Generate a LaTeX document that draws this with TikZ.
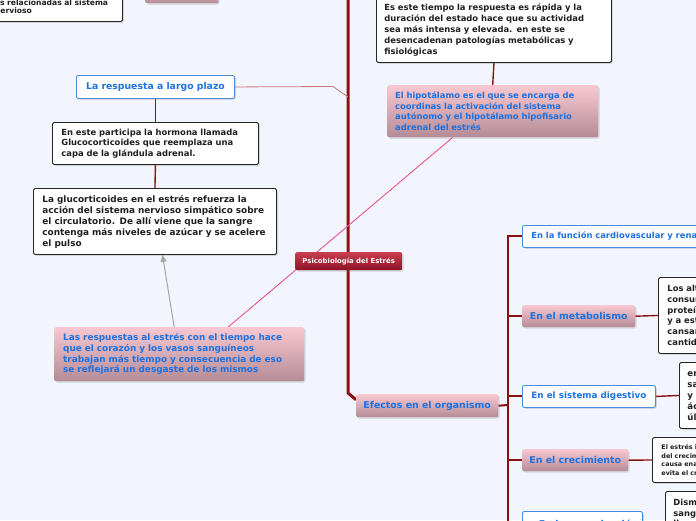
\documentclass[tikz,border=0pt]{standalone}
\usepackage{fontspec}
\setmainfont{DejaVu Sans}
\usetikzlibrary{shadows,arrows.meta}
\definecolor{bgc}{RGB}{242,245,253}
\definecolor{pinkT}{RGB}{248,200,210}
\definecolor{pinkB}{RGB}{180,140,150}
\definecolor{blueT}{RGB}{28,114,226}
\definecolor{blueB}{RGB}{70,140,225}
\definecolor{dred}{RGB}{140,18,18}
\definecolor{lred}{RGB}{205,120,120}
\definecolor{redT}{RGB}{200,62,78}
\definecolor{redB}{RGB}{140,18,38}
\definecolor{pinkline}{RGB}{232,96,150}
\definecolor{grayarr}{RGB}{165,165,165}
\pgfdeclarelayer{bgfill}
\pgfdeclarelayer{edges}
\pgfsetlayers{bgfill,edges,main}
\newcommand\fsz[2]{\fontsize{#1}{#2}\selectfont}
\newcommand\btn[1]{\leftskip=9pt\relax #1\par}
\newcommand\bte[1]{\leftskip=8pt\relax #1\par}
\begin{document}
\begin{tikzpicture}[x=1pt,y=-1pt,
  dshadow/.style={drop shadow={opacity=0.28,shadow xshift=1.3pt,shadow yshift=-1.3pt}},
  base/.style={anchor=north west,inner xsep=0pt,inner ysep=0pt,align=left},
  blackbox/.style={base,draw=black!85,line width=0.9pt,fill=white,rounded corners=1.5pt,dshadow,font=\bfseries\fsz{8.4}{10.8},text=black!88},
  pinkbox/.style={base,top color=pinkT,bottom color=pinkB,rounded corners=2pt,dshadow,text=blueT,font=\bfseries\fsz{8.4}{10.4}},
  bluebox/.style={base,draw=blueB,line width=0.9pt,fill=white,rounded corners=2pt,dshadow,text=blueT,font=\bfseries\fsz{8.6}{10.6}},
  redbox/.style={base,top color=redT,bottom color=redB,rounded corners=2pt,dshadow,text=white,font=\bfseries\fsz{6.9}{8}},
  mainline/.style={draw=dred,line width=3pt},
  branch/.style={draw=dred,line width=2pt},
  thinline/.style={draw=dred,line width=1.4pt},
  lthin/.style={draw=lred,line width=0.8pt},
  pinkedge/.style={draw=pinkline,line width=1pt},
  grayedge/.style={draw=grayarr,line width=1pt,-{Triangle[width=6pt,length=7pt]}}
]
\useasboundingbox (0,0) rectangle (696,520);
\begin{pgfonlayer}{bgfill}
\fill[bgc] (0,0) rectangle (696,520);
\end{pgfonlayer}

\node[blackbox, text width=136.4pt, minimum height=28.6pt, font=\bfseries\fsz{7.6}{8}] (tl) at (-14.4,-7.6) {\btn{as relacionadas al sistema\\nervioso}};
\node[pinkbox, minimum width=73pt, minimum height=20pt] (tp) at (145,-17) {};
\node[blackbox, text width=235pt, minimum height=65pt] (topbox) at (376,-3) {\bte{Es este tiempo la respuesta es rápida y la\\duración del estado hace que su actividad\\sea más intensa y elevada. en este se\\desencadenan patologías metabólicas y\\fisiológicas}};
\node[pinkbox, text width=211pt, minimum height=52pt] (hipo) at (387,85) {\bte{El hipotálamo es el que se encarga de\\coordinas la activación del sistema\\autónomo y el hipotálamo hipofisario\\adrenal del estrés}};
\node[bluebox, minimum width=158pt, minimum height=23pt, font=\bfseries\fsz{9.3}{11}] (resp) at (76,75) {La respuesta a largo plazo};
\node[blackbox, text width=206pt, minimum height=42pt, font=\bfseries\fsz{8.4}{10.5}] (gland) at (52,122) {\btn{En este participa la hormona llamada\\Glucocorticoides que reemplaza una\\capa de la glándula adrenal.}};
\node[blackbox, text width=243pt, minimum height=66pt, font=\bfseries\fsz{8.9}{11}] (gluco) at (33,188) {\btn{La glucorticoides en el estrés refuerza la\\acción del sistema nervioso simpático sobre\\el circulatorio. De allí viene que la sangre\\contenga más niveles de azúcar y se acelere\\el pulso}};
\node[pinkbox, text width=250pt, minimum height=54pt, font=\bfseries\fsz{8.9}{10.7}] (lasresp) at (54,327) {\btn{Las respuestas al estrés con el tiempo hace\\que el corazón y los vasos sanguíneos\\trabajan más tiempo y consecuencia de eso\\se reflejará un desgaste de los mismos}};
\node[redbox, minimum width=107pt, minimum height=18pt] (center) at (295,252) {Psicobiología del Estrés};
\node[pinkbox, minimum width=142pt, minimum height=23pt, font=\bfseries\fsz{9.4}{11}] (efectos) at (356,394) {Efectos en el organismo};
\node[bluebox, text width=200pt, minimum height=22pt, font=\bfseries\fsz{8.4}{10}] (cardio) at (522,225) {\btn{En la función cardiovascular y renal}};
\node[pinkbox, minimum width=113pt, minimum height=22pt, font=\bfseries\fsz{9.4}{11}] (metab) at (522,305) {En el metabolismo};
\node[blackbox, text width=100pt, minimum height=76pt] (losal) at (658,277) {\btn{Los altos\\consumos\\proteínas\\y a este\\cansancio\\cantidad}};
\node[bluebox, minimum width=133pt, minimum height=22pt, font=\bfseries\fsz{8.8}{10}] (dig) at (522,385) {En el sistema digestivo};
\node[blackbox, text width=100pt, minimum height=66pt, font=\bfseries\fsz{8.6}{11}] (digbox) at (679,362) {\bte{en la\\sangre\\y el\\ácidos\\úlceras}};
\node[pinkbox, minimum width=106pt, minimum height=22pt, font=\bfseries\fsz{9.4}{11}] (crec) at (522,449) {En el crecimiento};
\node[blackbox, text width=100pt, minimum height=45pt, font=\bfseries\fsz{6.4}{8.7}] (crecbox) at (652,437) {\btn{El estrés inhibe\\del crecimiento\\causa enanismo\\evita el crecimiento}};
\node[bluebox, minimum width=120pt, minimum height=27pt, font=\bfseries\fsz{9.4}{11}] (repro) at (522,511) {\hspace*{12pt}En la reproducción};
\node[blackbox, text width=100pt, minimum height=64pt, font=\bfseries\fsz{8.4}{10.4}] (dism) at (665,491) {\bte{Disminuye la\\sangre que\\llega a los\\órganos\\sexuales}};

\begin{pgfonlayer}{edges}
\coordinate (topend) at (348,-5);
\coordinate (bend) at (348,393);
\coordinate (j1) at (348,97);
\coordinate (j2) at (333,86.5);
\coordinate (vx) at (508,405);
\draw[mainline] (topend) -- (bend) -- ([yshift=6pt]efectos.west);
\draw[lthin] (resp.east) -- (j2) -- (j1);
\draw[thinline] (topbox.south) -- (hipo.north);
\draw[thinline] (resp.south) -- (gland.north);
\draw[thinline] (gland.south) -- (gluco.north);
\draw[pinkedge] ([xshift=-40pt]hipo.south) -- ([xshift=49pt]lasresp.north);
\draw[grayedge] ([xshift=-5pt]lasresp.north) -- ([xshift=7.5pt]gluco.south);
\draw[branch] (efectos.east) -- (vx);
\draw[branch] (cardio.west) -- ++(-14,0) |- (repro.west);
\draw[branch] (metab.west) -- (metab.west -| vx);
\draw[branch] (dig.west) -- (dig.west -| vx);
\draw[branch] (crec.west) -- (crec.west -| vx);
\draw[thinline] (metab.east) -- (losal.west);
\draw[thinline] (dig.east) -- (digbox.west);
\draw[thinline] (crec.east) -- (crecbox.west);
\draw[thinline] (repro.east) -- (dism.west);
\end{pgfonlayer}
\end{tikzpicture}
\end{document}
